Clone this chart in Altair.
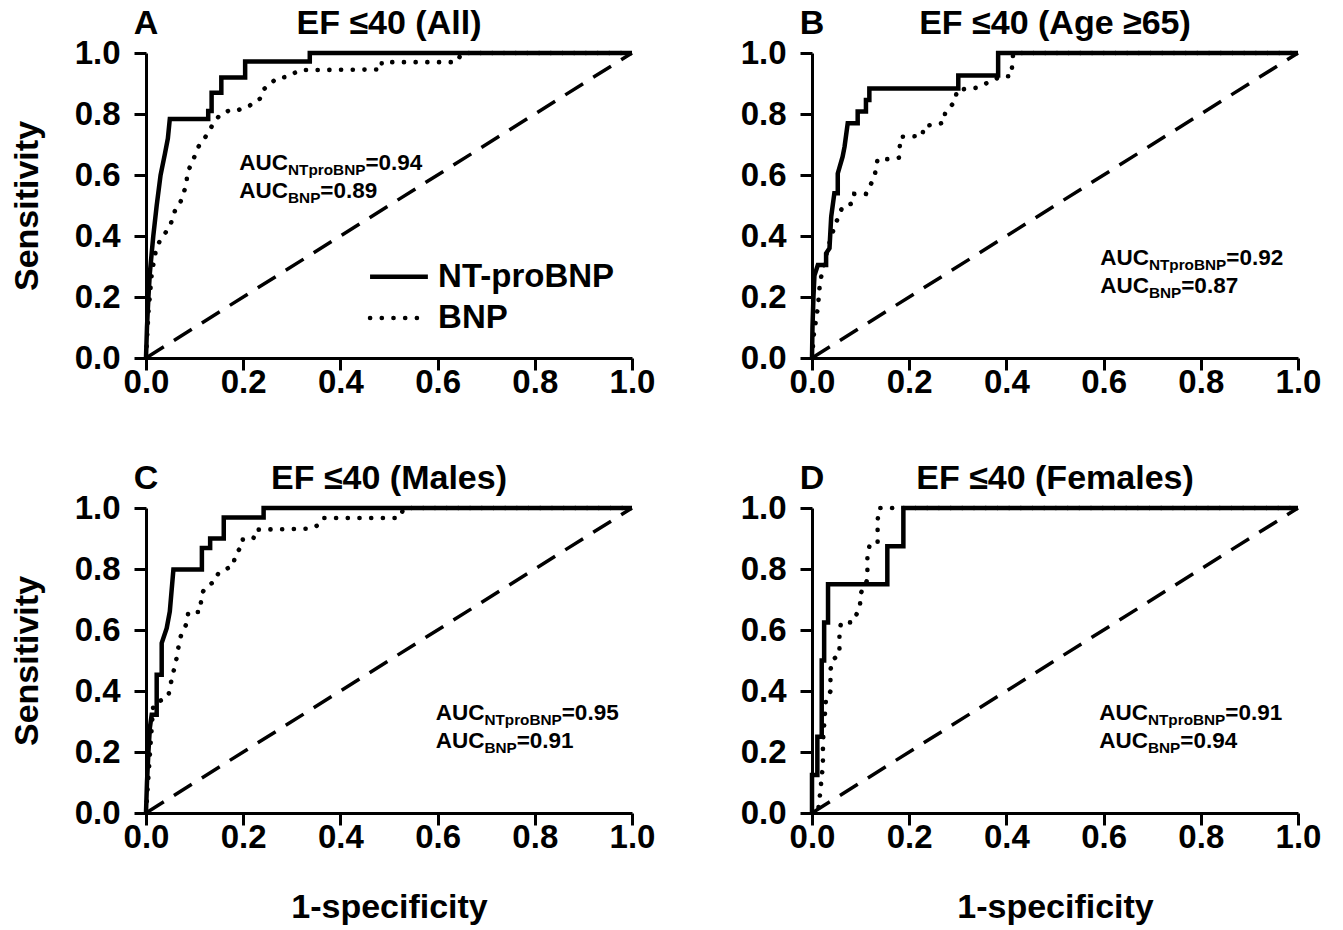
import altair as alt
import pandas as pd

FONT = "Liberation Sans"

LETTERS = ["A", "B", "C", "D"]
TITLES = ["EF ≤40 (All)", "EF ≤40 (Age ≥65)", "EF ≤40 (Males)", "EF ≤40 (Females)"]
AUC_NT = ["=0.94", "=0.92", "=0.95", "=0.91"]
AUC_BNP = ["=0.89", "=0.87", "=0.91", "=0.94"]
TICKS = [0.0, 0.2, 0.4, 0.6, 0.8, 1.0]
SERIES = ["NT-proBNP", "BNP"]

# Panel A (All)
A_NT_X = [0, 0.002, 0.005, 0.008, 0.015, 0.022, 0.030, 0.039, 0.045, 0.049, 0.128, 0.128, 0.135, 0.135, 0.155, 0.155, 0.204, 0.204, 0.337, 0.337, 1.0]
A_NT_Y = [0, 0.10, 0.20, 0.28, 0.40, 0.50, 0.60, 0.67, 0.72, 0.784, 0.784, 0.81, 0.81, 0.87, 0.87, 0.92, 0.92, 0.972, 0.972, 1.0, 1.0]
A_BNP_X = [0, 0.005, 0.012, 0.020, 0.029, 0.049, 0.060, 0.070, 0.084, 0.084, 0.094, 0.108, 0.125, 0.139, 0.152, 0.173, 0.190, 0.224, 0.235, 0.241, 0.269, 0.290, 0.317, 0.485, 0.485, 0.639, 0.650, 1.0]
A_BNP_Y = [0, 0.15, 0.28, 0.35, 0.387, 0.43, 0.485, 0.507, 0.573, 0.605, 0.638, 0.693, 0.731, 0.77, 0.797, 0.813, 0.813, 0.835, 0.851, 0.879, 0.917, 0.922, 0.944, 0.946, 0.97, 0.97, 1.0, 1.0]

# Panel B (Age >= 65)
B_NT_X = [0, 0.001, 0.003, 0.005, 0.012, 0.029, 0.029, 0.036, 0.0395, 0.046, 0.053, 0.053, 0.063, 0.067, 0.0735, 0.094, 0.094, 0.111, 0.111, 0.118, 0.118, 0.301, 0.301, 0.383, 0.383, 1.0]
B_NT_Y = [0, 0.10, 0.20, 0.27, 0.305, 0.305, 0.343, 0.36, 0.463, 0.54, 0.54, 0.605, 0.66, 0.693, 0.77, 0.77, 0.808, 0.808, 0.846, 0.846, 0.884, 0.884, 0.926, 0.926, 1.0, 1.0]
B_BNP_X = [0, 0.004, 0.0123, 0.0157, 0.019, 0.0327, 0.046, 0.063, 0.0837, 0.087, 0.111, 0.118, 0.128, 0.135, 0.159, 0.179, 0.182, 0.227, 0.230, 0.271, 0.274, 0.295, 0.298, 0.339, 0.390, 0.410, 0.414, 1.0]
B_BNP_Y = [0, 0.08, 0.168, 0.234, 0.267, 0.36, 0.43, 0.497, 0.507, 0.538, 0.538, 0.562, 0.589, 0.652, 0.652, 0.657, 0.725, 0.728, 0.76, 0.771, 0.804, 0.843, 0.879, 0.886, 0.924, 0.924, 1.0, 1.0]

# Panel C (Males)
C_NT_X = [0, 0.002, 0.005, 0.008, 0.0117, 0.022, 0.022, 0.0323, 0.0323, 0.0426, 0.049, 0.0564, 0.115, 0.115, 0.132, 0.132, 0.160, 0.160, 0.242, 0.242, 1.0]
C_NT_Y = [0, 0.10, 0.20, 0.28, 0.322, 0.322, 0.453, 0.453, 0.557, 0.606, 0.661, 0.798, 0.798, 0.869, 0.869, 0.90, 0.90, 0.969, 0.969, 1.0, 1.0]
C_BNP_X = [0, 0.005, 0.010, 0.015, 0.046, 0.0495, 0.063, 0.070, 0.084, 0.087, 0.111, 0.115, 0.125, 0.142, 0.149, 0.180, 0.183, 0.194, 0.197, 0.221, 0.225, 0.338, 0.359, 0.366, 0.520, 0.525, 0.530, 1.0]
C_BNP_Y = [0, 0.12, 0.24, 0.355, 0.383, 0.415, 0.508, 0.574, 0.623, 0.659, 0.659, 0.721, 0.743, 0.76, 0.787, 0.812, 0.845, 0.869, 0.896, 0.899, 0.929, 0.932, 0.947, 0.967, 0.967, 0.978, 1.0, 1.0]

# Panel D (Females)
D_NT_X = [0, 0, 0.011, 0.011, 0.020, 0.020, 0.025, 0.025, 0.033, 0.033, 0.155, 0.155, 0.188, 0.188, 1.0]
D_NT_Y = [0, 0.125, 0.125, 0.25, 0.25, 0.5, 0.5, 0.625, 0.625, 0.75, 0.75, 0.875, 0.875, 1.0, 1.0]
D_BNP_X = [0, 0.012, 0.0157, 0.0225, 0.0225, 0.029, 0.038, 0.038, 0.043, 0.0565, 0.0565, 0.060, 0.084, 0.099, 0.099, 0.114, 0.114, 0.118, 0.135, 0.135, 0.138, 1.0]
D_BNP_Y = [0, 0.0, 0.049, 0.158, 0.235, 0.377, 0.399, 0.47, 0.503, 0.52, 0.596, 0.625, 0.625, 0.677, 0.716, 0.765, 0.841, 0.874, 0.88, 0.959, 1.0, 1.0]

CURVES = [
    (A_NT_X, A_NT_Y, A_BNP_X, A_BNP_Y),
    (B_NT_X, B_NT_Y, B_BNP_X, B_BNP_Y),
    (C_NT_X, C_NT_Y, C_BNP_X, C_BNP_Y),
    (D_NT_X, D_NT_Y, D_BNP_X, D_BNP_Y),
]

# layout of annotations (data coordinates of each panel)
AUC_POS = [(0.192, 0.616), (0.593, 0.305), (0.596, 0.306), (0.591, 0.306)]
AUC_LINE_GAP = 0.092
LEGEND_X = (0.461, 0.58, 0.601)
LEGEND_Y = (0.266, 0.131)

W, H = 486, 305
SOLID_W = 4.5
DOT = dict(strokeWidth=4.6, strokeDash=[0.1, 11.6], strokeCap="round")
BIG = 22.5
SUB = 15.3
W_AUC = 2.166 * BIG
W_SUB_NT = 5.055 * SUB
W_SUB_BNP = 2.111 * SUB

xs = alt.Scale(domain=[0, 1], nice=False, zero=False)
ys = alt.Scale(domain=[0, 1], nice=False, zero=False)


def panel(i, show_y_title, show_x_title):
    ntx, nty, bx, by = CURVES[i]
    xax = alt.Axis(values=TICKS, format=".1f", title="1-specificity" if show_x_title else None)
    yax = alt.Axis(values=TICKS, format=".1f", title="Sensitivity" if show_y_title else None)
    X = alt.X("x:Q", scale=xs, axis=xax)
    Y = alt.Y("y:Q", scale=ys, axis=yax)

    diag = alt.Chart(pd.DataFrame({"x": [0, 1], "y": [0, 1]})).mark_line(
        color="black", strokeWidth=3.5, strokeDash=[21, 12]
    ).encode(x=X, y=Y)

    nt = alt.Chart(pd.DataFrame({"x": ntx, "y": nty, "o": list(range(len(ntx)))})).mark_line(
        color="black", strokeWidth=SOLID_W, strokeJoin="miter"
    ).encode(x=X, y=Y, order="o:Q")

    bnp = alt.Chart(pd.DataFrame({"x": bx, "y": by, "o": list(range(len(bx)))})).mark_line(
        color="black", **DOT
    ).encode(x=X, y=Y, order="o:Q")

    ax0, ay0 = AUC_POS[i]
    auc_df = pd.DataFrame({"x": [ax0, ax0], "y": [ay0, ay0 - AUC_LINE_GAP], "t": ["AUC", "AUC"]})
    auc = alt.Chart(auc_df).mark_text(
        font=FONT, fontWeight="bold", fontSize=BIG, align="left", baseline="alphabetic", color="black"
    ).encode(x=X, y=Y, text="t:N")
    sub1 = alt.Chart(pd.DataFrame({"x": [ax0], "y": [ay0], "t": ["NTproBNP"]})).mark_text(
        font=FONT, fontWeight="bold", fontSize=SUB, align="left", baseline="alphabetic",
        dx=W_AUC, dy=5, color="black"
    ).encode(x=X, y=Y, text="t:N")
    sub2 = alt.Chart(pd.DataFrame({"x": [ax0], "y": [ay0 - AUC_LINE_GAP], "t": ["BNP"]})).mark_text(
        font=FONT, fontWeight="bold", fontSize=SUB, align="left", baseline="alphabetic",
        dx=W_AUC, dy=5, color="black"
    ).encode(x=X, y=Y, text="t:N")
    val1 = alt.Chart(pd.DataFrame({"x": [ax0], "y": [ay0], "t": [AUC_NT[i]]})).mark_text(
        font=FONT, fontWeight="bold", fontSize=BIG, align="left", baseline="alphabetic",
        dx=W_AUC + W_SUB_NT, color="black"
    ).encode(x=X, y=Y, text="t:N")
    val2 = alt.Chart(pd.DataFrame({"x": [ax0], "y": [ay0 - AUC_LINE_GAP], "t": [AUC_BNP[i]]})).mark_text(
        font=FONT, fontWeight="bold", fontSize=BIG, align="left", baseline="alphabetic",
        dx=W_AUC + W_SUB_BNP, color="black"
    ).encode(x=X, y=Y, text="t:N")

    letter = alt.Chart(pd.DataFrame({"x": [0.0], "t": [LETTERS[i]]})).mark_text(
        font=FONT, fontWeight="bold", fontSize=34, align="center", baseline="alphabetic", color="black"
    ).encode(x=X, y=alt.value(-19), text="t:N")
    title = alt.Chart(pd.DataFrame({"x": [0.5], "t": [TITLES[i]]})).mark_text(
        font=FONT, fontWeight="bold", fontSize=34, align="center", baseline="alphabetic", color="black"
    ).encode(x=X, y=alt.value(-19), text="t:N")

    layers = [diag, bnp, nt, auc, sub1, sub2, val1, val2, letter, title]

    if i == 0:
        lx0, lx1, ltx = LEGEND_X
        ly_nt, ly_bnp = LEGEND_Y
        leg_nt = alt.Chart(pd.DataFrame({"x": [lx0], "x2": [lx1], "y": [ly_nt]})).mark_rule(
            color="black", strokeWidth=SOLID_W
        ).encode(x=X, x2="x2:Q", y=Y)
        leg_bnp = alt.Chart(pd.DataFrame({"x": [lx0], "x2": [lx1], "y": [ly_bnp]})).mark_rule(
            color="black", **DOT
        ).encode(x=X, x2="x2:Q", y=Y)
        leg_txt = alt.Chart(pd.DataFrame({"x": [ltx, ltx], "y": [ly_nt, ly_bnp], "t": SERIES})).mark_text(
            font=FONT, fontWeight="bold", fontSize=33, align="left", baseline="middle", color="black"
        ).encode(x=X, y=Y, text="t:N")
        layers += [leg_nt, leg_bnp, leg_txt]

    return alt.layer(*layers).properties(width=W, height=H)


chart = alt.concat(
    panel(0, True, False), panel(1, False, False),
    panel(2, True, True), panel(3, False, True),
    columns=2, spacing={"row": 150, "column": 180}, bounds="flush",
    padding={"top": -1, "left": 2, "right": 5, "bottom": 5},
).configure_view(
    stroke=None
).configure_axis(
    grid=False,
    domainColor="black",
    domainWidth=3,
    tickColor="black",
    tickWidth=3,
    tickSize=12,
    labelFont=FONT,
    labelFontWeight="bold",
    labelFontSize=33,
    labelColor="black",
    labelFlush=False,
    titleFont=FONT,
    titleFontWeight="bold",
    titleFontSize=34,
    titleColor="black",
).configure_axisX(
    labelPadding=-4, titlePadding=36
).configure_axisY(
    labelPadding=14, titlePadding=30
)

chart.save("out.html", embed_options={"renderer": "svg", "actions": False})
